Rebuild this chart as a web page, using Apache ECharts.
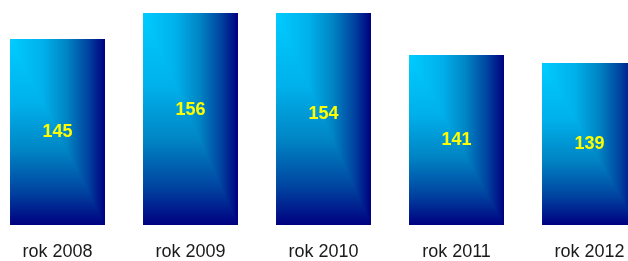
<!DOCTYPE html>
<html>
<head>
<meta charset="utf-8">
<script src="https://cdn.jsdelivr.net/npm/echarts@6/dist/echarts.min.js"></script>
<style>
  html, body { margin: 0; padding: 0; background: #fff; overflow: hidden; }
  /* szerszy kontener: pierwszy słupek zaczyna się przy lewej krawędzi, ostatni jest ucięty z prawej */
  #chart { position: absolute; left: -9px; top: 0; width: 665px; height: 261px; }
</style>
</head>
<body>
<div id="chart"></div>
<script>
// dane wykresu
var years = ['rok 2008', 'rok 2009', 'rok 2010', 'rok 2011', 'rok 2012'];
var counts = [145, 156, 154, 141, 139];
// zakres osi Y (słupki 2009/2010 wychodzą poza obszar i są ucinane)
var axisMin = 98.5;
var axisMax = 151.5;

// gradient "z rogu": jasny błękit w lewym górnym rogu, granat w prawo i w dół
var stops = [
  { offset: 0, color: '#00ccff' },
  { offset: 0.35, color: '#00b0ea' },
  { offset: 0.6, color: '#0084c4' },
  { offset: 0.82, color: '#0044a0' },
  { offset: 1, color: '#000080' }
];

function renderItem (params, api) {
  var cs = params.coordSys;
  var base = api.coord([api.value(0), axisMin]);
  var top = api.coord([api.value(0), api.value(1)]);
  var w = api.size([1, 0])[0] * 0.714;
  var x0 = base[0] - w / 2, x1 = x0 + w;
  var yb = base[1];
  var yc = Math.max(top[1], cs.y);   // przycięcie do obszaru wykresu
  return {
    type: 'group',
    children: [
      {
        type: 'rect',
        shape: { x: x0, y: yc, width: w, height: yb - yc },
        style: { fill: new echarts.graphic.LinearGradient(0, 0, 0, 1, stops) }
      },
      {
        type: 'polygon',
        shape: { points: [[x0, yc], [x1, yc], [x1, yb]] },
        style: { fill: new echarts.graphic.LinearGradient(0, 0, 1, 0, stops) }
      },
      {
        type: 'text',
        x: base[0],
        y: (top[1] + yb) / 2,
        style: {
          text: String(api.value(1)),
          fill: '#ffff00',
          font: 'bold 18px "Liberation Sans", Arial, sans-serif',
          align: 'center',
          verticalAlign: 'middle'
        }
      }
    ]
  };
}

var chart = echarts.init(document.getElementById('chart'));
var option = {
  animation: false,
  backgroundColor: '#ffffff',
  grid: { left: 0, right: 0, top: 13, bottom: 36 },
  xAxis: {
    type: 'category',
    data: years,
    axisLine: { show: false },
    axisTick: { show: false },
    axisLabel: {
      fontSize: 18,
      color: '#1a1a1a',
      fontFamily: '"Liberation Sans", Arial, sans-serif',
      margin: 18
    }
  },
  yAxis: {
    type: 'value',
    min: axisMin,
    max: axisMax,
    show: false
  },
  series: [{
    type: 'custom',
    renderItem: renderItem,
    data: counts.map(function (v, i) { return [i, v] })
  }]
};
chart.setOption(option);
</script>
</body>
</html>
